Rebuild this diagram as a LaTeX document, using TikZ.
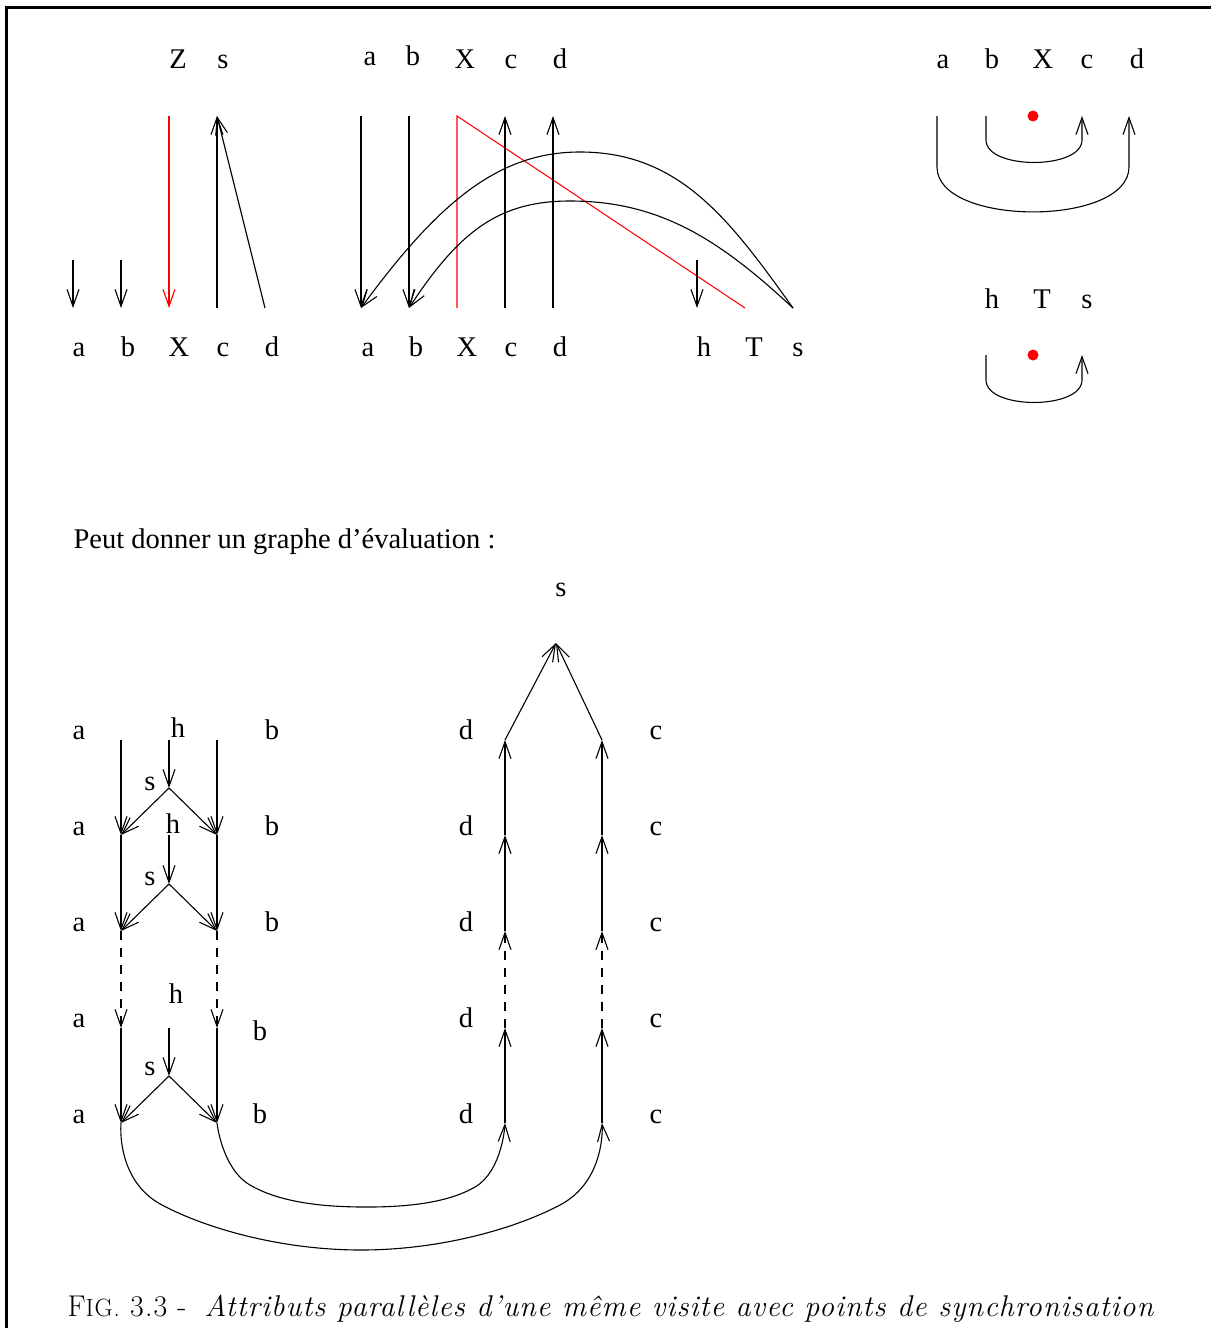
\documentclass[tikz,border=0pt]{standalone}
\usepackage{fontspec}
\usepackage{xcolor}
\usepackage{tikz}
\usetikzlibrary{arrows.meta, positioning}
\newfontfamily\labfont{Liberation Serif}
\newfontfamily\capfont[LetterSpace=3.6]{Latin Modern Roman}
\definecolor{syncred}{HTML}{FF0000}
\tikzstyle{arr}=[-{Straight Barb[length=17pt,width=12pt]},line width=1.1pt]
\tikzstyle{redarr}=[arr,color=syncred]
\tikzstyle{lab}=[anchor=base,inner sep=0pt,font=\labfont\fontsize{28.5}{34}\selectfont]

\begin{document}
\begin{tikzpicture}[x=1pt,y=-1pt,line width=1.1pt]
  \useasboundingbox (0,0) rectangle (1211,1328);
  \draw[line width=3pt] (6,1328) -- (6,7) -- (1211,7);

  % left block
  \node[lab] (tlZ) at (178,68) {Z};
  \node[lab] (tls) at (223,68) {s};
  \foreach \n/\x in {a/79,b/128,X/179,c/223,d/272}
    \node[lab] (tl\n) at (\x,356) {\n};
  \coordinate (tlatop) at (73,260);  \coordinate (tlabot) at (73,308);
  \coordinate (tlbtop) at (121,260); \coordinate (tlbbot) at (121,308);
  \coordinate (tlXtop) at (169,116); \coordinate (tlXbot) at (169,308);
  \coordinate (tlctop) at (217,116); \coordinate (tlcbot) at (217,308);
  \coordinate (tldbot) at (265,308);
  \draw[arr] (tlatop) -- (tlabot);
  \draw[arr] (tlbtop) -- (tlbbot);
  \draw[redarr] (tlXtop) -- (tlXbot);
  \draw[arr] (tlcbot) -- (tlctop);
  \draw[arr] (tldbot) -- (tlctop);

  % middle block
  \foreach \n/\x/\y in {a/370/65,b/413/65,X/465/68,c/511/68,d/560/68}
    \node[lab] (tmt\n) at (\x,\y) {\n};
  \foreach \n/\x in {a/368,b/416,X/467,c/511,d/560,h/704,T/754,s/798}
    \node[lab] (tmb\n) at (\x,356) {\n};
  \foreach \n/\x in {a/361,b/409,X/457,c/505,d/553,h/697,T/745,s/793}{
    \coordinate (tm\n top) at (\x,116);
    \coordinate (tm\n bot) at (\x,308);
  }
  \coordinate (tmhmid) at (697,260);
  \draw[arr] (tmatop) -- (tmabot);
  \draw[arr] (tmbtop) -- (tmbbot);
  \draw[syncred] (tmXbot) -- (tmXtop) -- (tmTbot);
  \draw[arr] (tmcbot) -- (tmctop);
  \draw[arr] (tmdbot) -- (tmdtop);
  \draw[arr] (tmhmid) -- (tmhbot);
  \draw[arr] (tmsbot) .. controls (730,220) and (680,152) .. (580,152)
                      .. controls (500,152) and (440,200) .. (tmabot);
  \draw[arr] (tmsbot) .. controls (720,240) and (660,201) .. (570,201)
                      .. controls (500,201) and (460,230) .. (tmbbot);

  % right block
  \foreach \n/\x in {a/943,b/992,X/1043,c/1087,d/1137}
    \node[lab] (tr\n) at (\x,68) {\n};
  \foreach \n/\x in {h/992,T/1042,s/1087}
    \node[lab] (br\n) at (\x,308) {\n};
  \coordinate (trasrc) at (937,116); \coordinate (trbsrc) at (986,116);
  \coordinate (trcdst) at (1082,116); \coordinate (trddst) at (1129,116);
  \coordinate (brhsrc) at (986,355); \coordinate (brsdst) at (1082,355);
  \fill[syncred] (1033,116) circle (5.5);
  \fill[syncred] (1033,355) circle (5.5);
  \draw[arr] (trbsrc) -- ++(0,24) to[out=-90,in=-90,looseness=0.8] (1082,140) -- (trcdst);
  \draw[arr] (trasrc) -- ++(0,51) to[out=-90,in=-90,looseness=0.8] (1129,167) -- (trddst);
  \draw[arr] (brhsrc) -- ++(0,25) to[out=-90,in=-90,looseness=0.8] (1082,380) -- (brsdst);

  \node[lab,anchor=base west] (txt) at (73,548) {Peut donner un graphe d’évaluation :};

  % evaluation graph
  \node[lab] (gs) at (561,596) {s};
  \foreach \i/\y in {1/739,2/835,3/931,4/1027,5/1123}{
    \node[lab] (ga\i) at (79,\y) {a};
    \node[lab] (gd\i) at (466,\y) {d};
    \node[lab] (gc\i) at (656,\y) {c};
  }
  \foreach \i/\x/\y in {1/272/739,2/272/835,3/272/931,4/260/1040,5/260/1123}
    \node[lab] (gb\i) at (\x,\y) {b};
  \foreach \i/\x/\y in {1/178/737,2/173/833,3/176/1003}
    \node[lab] (gh\i) at (\x,\y) {h};
  \foreach \i/\y in {1/790,2/885,3/1075}
    \node[lab] (gsy\i) at (150,\y) {s};

  \foreach \i/\y in {1/740,2/835,3/931,4/1028,5/1123}{
    \coordinate (la\i) at (121,\y);
    \coordinate (lb\i) at (217,\y);
    \coordinate (rd\i) at (505,\y);
    \coordinate (rc\i) at (602,\y);
  }
  \coordinate (stop) at (556,643);
  \coordinate (h1) at (169,740);  \coordinate (m1) at (169,788);
  \coordinate (h2) at (169,835);  \coordinate (m2) at (169,884);
  \coordinate (h3) at (169,1028); \coordinate (m3) at (169,1076);

  \foreach \i/\j in {1/2,2/3,4/5}{
    \draw[arr] (la\i) -- (la\j);
    \draw[arr] (lb\i) -- (lb\j);
    \draw[arr] (rd\j) -- (rd\i);
    \draw[arr] (rc\j) -- (rc\i);
  }
  \draw[arr,dash pattern=on 9pt off 8pt] (la3) -- (la4);
  \draw[arr,dash pattern=on 9pt off 8pt] (lb3) -- (lb4);
  \draw[arr,dash pattern=on 9pt off 8pt] (rd4) -- (rd3);
  \draw[arr,dash pattern=on 9pt off 8pt] (rc4) -- (rc3);
  \foreach \h/\m/\r in {h1/m1/2,h2/m2/3,h3/m3/5}{
    \draw[arr] (\h) -- (\m);
    \draw[arr] (\m) -- (la\r);
    \draw[arr] (\m) -- (lb\r);
  }
  \draw[arr] (rd1) -- (stop);
  \draw[arr] (rc1) -- (stop);
  \draw[arr] plot[smooth,tension=0.7] coordinates {(la5) (162,1205) (361,1250) (560,1205) (rc5)};
  \draw[arr] plot[smooth,tension=0.7] coordinates {(lb5) (250,1185) (361,1207) (475,1187) (rd5)};

  \node[anchor=base west,inner sep=0pt,font=\capfont\fontsize{30}{36}\selectfont] (cap) at (67,1316)
    {F{\fontsize{25}{30}\selectfont IG.} 3.3 -\hspace{18pt}\textit{Attributs parallèles d’une même visite avec points de synchronisation}};
\end{tikzpicture}
\end{document}
